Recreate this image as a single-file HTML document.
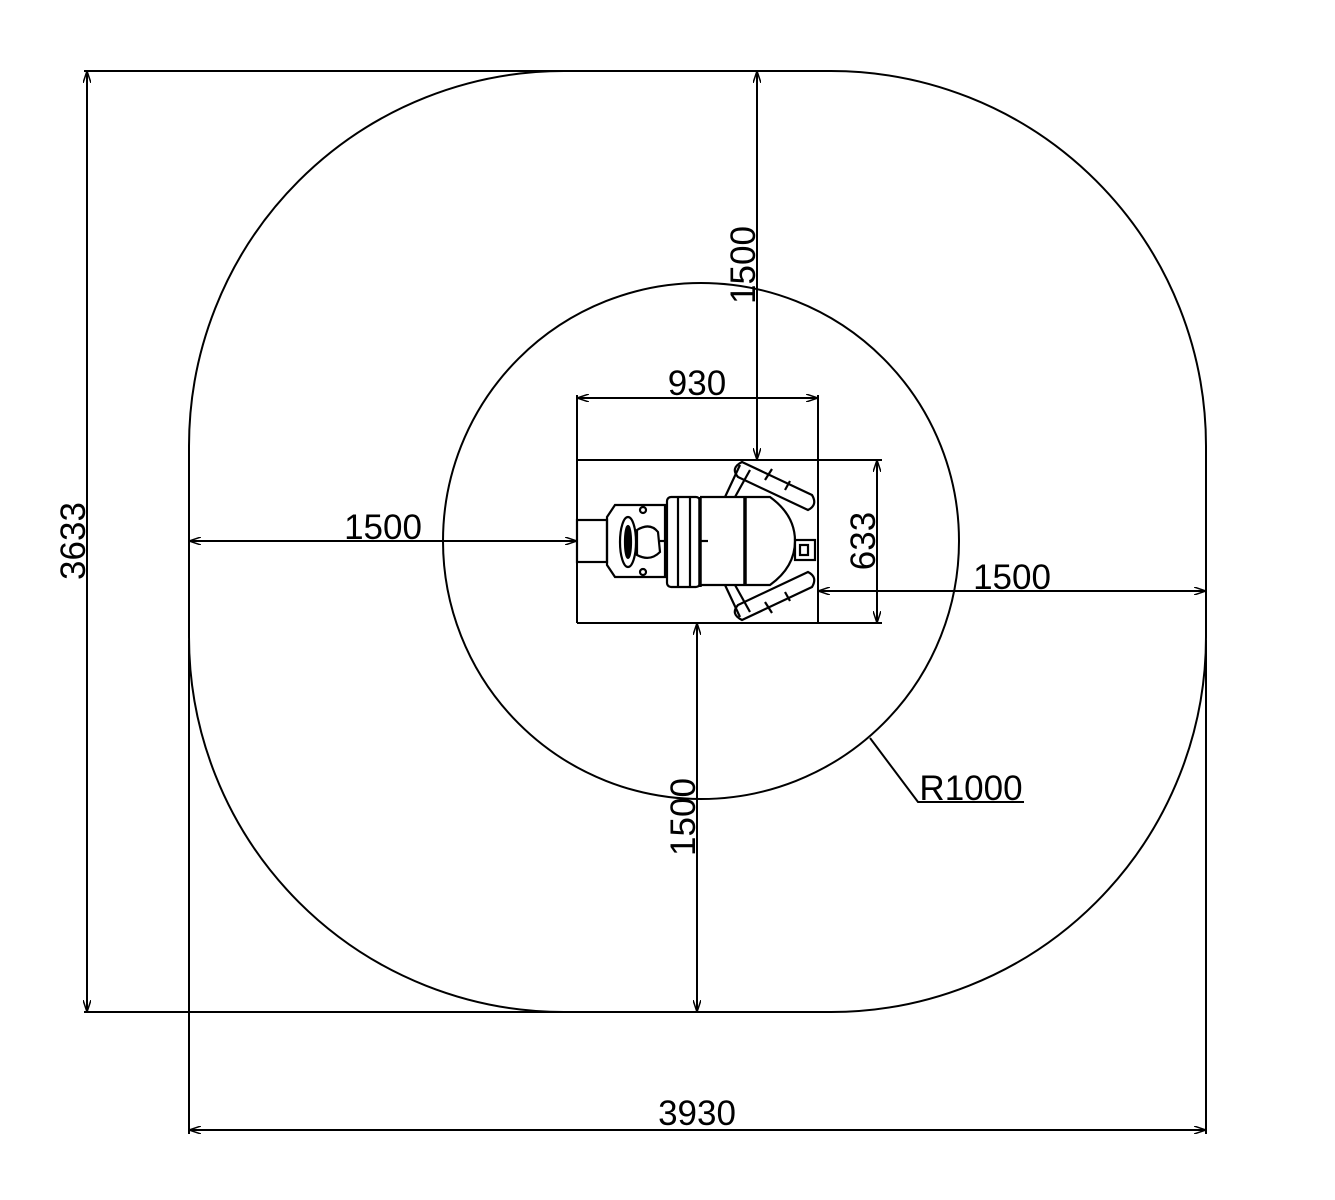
<!DOCTYPE html>
<html><head><meta charset="utf-8"><style>
html,body{margin:0;padding:0;background:#fff}
svg{display:block}
text{font-family:"Liberation Sans",Arial,sans-serif;font-size:35px;fill:#000}
</style></head><body>
<svg width="1335" height="1200" viewBox="0 0 1335 1200" xmlns="http://www.w3.org/2000/svg">
<defs>
<marker id="a" viewBox="0 0 12 8" refX="12" refY="4" markerWidth="12" markerHeight="8" orient="auto-start-reverse" markerUnits="userSpaceOnUse">
<path d="M0,0 L12,4 L0,8" fill="none" stroke="#000" stroke-width="1.5"/>
</marker>
</defs>
<g fill="none" stroke="#000" stroke-width="2">
<rect x="189" y="71" width="1017" height="941" rx="375" ry="375"/>
<circle cx="701" cy="541" r="258"/>
<line x1="84" y1="71" x2="760" y2="71"/>
<line x1="84" y1="1012" x2="700" y2="1012"/>
<line x1="189" y1="640" x2="189" y2="1134"/>
<line x1="1206" y1="640" x2="1206" y2="1134"/>
<line x1="577" y1="395" x2="577" y2="623"/>
<line x1="818" y1="395" x2="818" y2="623"/>
<line x1="577" y1="460" x2="882" y2="460"/>
<line x1="577" y1="623" x2="882" y2="623"/>
<line x1="87" y1="71" x2="87" y2="1012" marker-start="url(#a)" marker-end="url(#a)"/>
<line x1="189" y1="1130" x2="1206" y2="1130" marker-start="url(#a)" marker-end="url(#a)"/>
<line x1="577" y1="398" x2="818" y2="398" marker-start="url(#a)" marker-end="url(#a)"/>
<line x1="877" y1="460" x2="877" y2="623" marker-start="url(#a)" marker-end="url(#a)"/>
<line x1="189" y1="541" x2="577" y2="541" marker-start="url(#a)" marker-end="url(#a)"/>
<line x1="757" y1="71" x2="757" y2="460" marker-start="url(#a)" marker-end="url(#a)"/>
<line x1="818" y1="591" x2="1206" y2="591" marker-start="url(#a)" marker-end="url(#a)"/>
<line x1="697" y1="623" x2="697" y2="1012" marker-start="url(#a)" marker-end="url(#a)"/>
<polyline points="870,738 918,802 1024,802"/>
<g stroke-width="2.2">
<rect x="577" y="520" width="30" height="42"/>
<polygon points="607,517 615,505 665,505 665,577 615,577 607,565"/>
<ellipse cx="628" cy="542" rx="8" ry="25"/>
<ellipse cx="628" cy="542" rx="3" ry="16" fill="#000"/>
<path d="M637,530 Q650,522 658,532 L660,552 Q650,562 637,555 Z"/>
<circle cx="643" cy="510" r="3"/><circle cx="643" cy="572" r="3"/>
<line x1="660" y1="541" x2="667" y2="541"/>
<rect x="667" y="497" width="33" height="90" rx="4"/>
<line x1="678" y1="497" x2="678" y2="587"/>
<line x1="690" y1="497" x2="690" y2="587"/>
<line x1="700" y1="497" x2="700" y2="587" stroke-width="3.5"/>
<path d="M700,497 L770,497 Q795,515 795,541 Q795,567 770,585 L700,585"/>
<line x1="745" y1="497" x2="745" y2="585" stroke-width="3.5"/>
<line x1="700" y1="541" x2="708" y2="541"/>
<rect x="795" y="540" width="20" height="20"/>
<rect x="800" y="545" width="8" height="10"/>
<line x1="725" y1="497" x2="740" y2="465"/>
<line x1="735" y1="497" x2="750" y2="470"/>
<path d="M742,462 L812,495 Q818,505 808,510 L738,477 Q730,468 742,462 Z"/>
<line x1="765" y1="480" x2="772" y2="469"/>
<line x1="785" y1="490" x2="790" y2="481"/>
<line x1="725" y1="585" x2="740" y2="617"/>
<line x1="735" y1="585" x2="750" y2="612"/>
<path d="M742,620 L812,587 Q818,577 808,572 L738,605 Q730,614 742,620 Z"/>
<line x1="765" y1="602" x2="772" y2="613"/>
<line x1="785" y1="592" x2="790" y2="601"/>
</g>
</g>
<text transform="translate(85,541) rotate(-90)" text-anchor="middle">3633</text>
<text x="697" y="1125" text-anchor="middle">3930</text>
<text x="697" y="395" text-anchor="middle">930</text>
<text transform="translate(875,541) rotate(-90)" text-anchor="middle">633</text>
<text x="383" y="539" text-anchor="middle">1500</text>
<text transform="translate(755,265) rotate(-90)" text-anchor="middle">1500</text>
<text x="1012" y="589" text-anchor="middle">1500</text>
<text transform="translate(695,817) rotate(-90)" text-anchor="middle">1500</text>
<text x="971" y="800" text-anchor="middle">R1000</text>
</svg>
</body></html>
